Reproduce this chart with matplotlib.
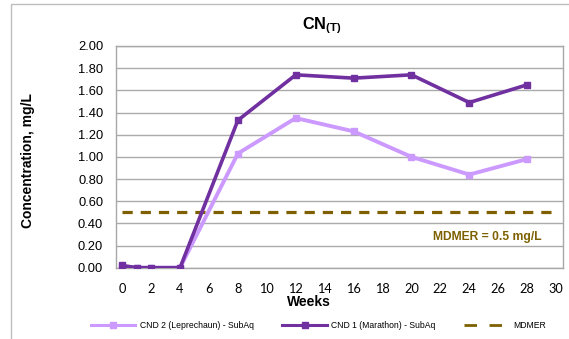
import matplotlib
matplotlib.use("Agg")
import matplotlib.pyplot as plt
from matplotlib.patches import Rectangle
from matplotlib.lines import Line2D

# Sampling weeks and total cyanide concentrations (mg/L)
weeks = [0, 1, 2, 4, 8, 12, 16, 20, 24, 28]
cnd2_leprechaun = [0.01, 0.00, 0.00, 0.00, 1.03, 1.35, 1.23, 1.00, 0.84, 0.98]
cnd1_marathon = [0.02, 0.00, 0.00, 0.00, 1.33, 1.74, 1.71, 1.74, 1.49, 1.65]
mdmer_weeks = [0, 30]
mdmer_value = 0.5

series_labels = ["CND 2 (Leprechaun) - SubAq", "CND 1 (Marathon) - SubAq", "MDMER"]
x_ticks = list(range(0, 31, 2))
y_ticks = [i * 0.2 for i in range(11)]

plt.rcParams["font.family"] = ["Liberation Sans", "DejaVu Sans"]
plt.rcParams["mathtext.fontset"] = "custom"
plt.rcParams["mathtext.rm"] = "Liberation Sans"
plt.rcParams["mathtext.bf"] = "Liberation Sans:bold"

W, H = 569, 339
fig = plt.figure(figsize=(W / 100, H / 100), dpi=100)

light = "#CC99FF"
dark = "#7030A0"
olive = "#7F6000"
grid_c = "#ABABAB"

# chart-area border
fig.patches.append(Rectangle((10.7 / W, -0.05), 1.2, 1 - 4 / H + 0.05,
                             transform=fig.transFigure, fill=False,
                             edgecolor="#BDBDBD", lw=1.0))

ax = fig.add_axes([115.7 / W, 1 - 267.7 / H, (563.3 - 115.7) / W, (267.7 - 46) / H])
ax.set_xlim(-0.45, 30.5)
ax.set_ylim(0, 2.0)

ax.set_yticks(y_ticks)
ax.set_yticklabels([f"{v:.2f}" for v in y_ticks], fontsize=9.3)
ax.set_xticks(x_ticks)
ax.set_xticklabels([str(v) for v in x_ticks], fontsize=9.2, family="Lato")
ax.tick_params(axis="both", length=0)
ax.tick_params(axis="y", pad=9)
ax.tick_params(axis="x", pad=11)

ax.grid(axis="y", color=grid_c, lw=1.0)
ax.set_axisbelow(True)
for s in ax.spines.values():
    s.set_color("#A8A8A8")
    s.set_linewidth(1.0)

ax.plot(mdmer_weeks, [mdmer_value] * len(mdmer_weeks), color=olive, lw=2.3,
        dashes=(3.2, 2.5), zorder=2, label=series_labels[2])
ax.plot(weeks, cnd2_leprechaun, color=light, lw=2.8, marker="s", ms=4.2,
        zorder=3, label=series_labels[0])
ax.plot(weeks, cnd1_marathon, color=dark, lw=2.6, marker="s", ms=4.2,
        zorder=4, label=series_labels[1])

ax.text(25.25, 0.28, f"MDMER = {mdmer_value} mg/L", color=olive, fontsize=8.7,
        fontweight="bold", ha="center", va="center")

fig.text(322 / W, 1 - 25.5 / H, r"$\mathbf{CN_{(T)}}$", fontsize=11.7,
         ha="center", va="center")
fig.text(28 / W, 1 - 160.5 / H, "Concentration, mg/L", rotation=90,
         fontsize=10, fontweight="bold", ha="center", va="center")
fig.text(309 / W, 1 - 302.5 / H, "Weeks", fontsize=10, fontweight="bold",
         ha="center", va="center")

handles = [
    Line2D([], [], color=light, lw=2.2, marker="s", ms=4),
    Line2D([], [], color=dark, lw=2.2, marker="s", ms=4),
    Line2D([], [], color=olive, lw=2.0, dashes=(4.5, 4.5)),
]
fig.legend(handles, series_labels, ncol=3, loc="center left",
           bbox_to_anchor=(90.7 / W, 1 - 325.7 / H), frameon=False,
           fontsize=6.2, handlelength=5.2, handletextpad=0.47,
           columnspacing=3.35, borderpad=0, borderaxespad=0)

fig.savefig("out.png", dpi=100)
